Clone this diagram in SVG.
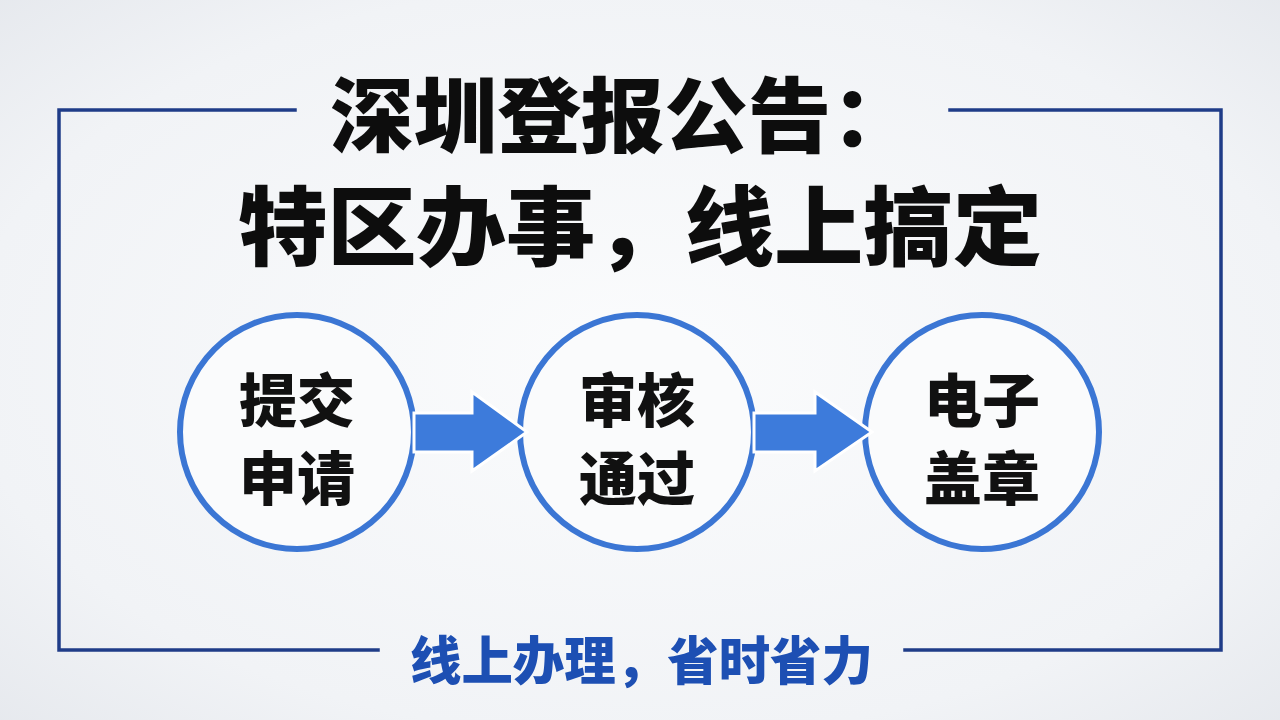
<svg xmlns="http://www.w3.org/2000/svg" width="1280" height="720" viewBox="0 0 1280 720">
<defs>
<radialGradient id="bg" cx="50%" cy="50%" r="75%">
<stop offset="0" stop-color="#FBFCFD"/>
<stop offset="0.7" stop-color="#F1F3F6"/>
<stop offset="1" stop-color="#E4E7EC"/>
</radialGradient>
<style>
.frame{fill:none;stroke:#1F3C88;stroke-width:3.5;stroke-linecap:square}
.ring{fill:#FAFBFC;stroke:#3B76D4;stroke-width:6}
.arrow{fill:#3D7BDB;stroke:#FFFFFF;stroke-width:3;stroke-linejoin:miter}
.title{font-family:"Noto Sans CJK SC","Noto Sans CJK JP",sans-serif;font-weight:900;fill:#0D0D0D}
.node{font-family:"Noto Sans CJK SC","Noto Sans CJK JP",sans-serif;font-weight:900;font-size:58px;fill:#111;text-anchor:middle}
.foot{font-family:"Noto Sans CJK SC","Noto Sans CJK JP",sans-serif;font-weight:900;font-size:52px;fill:#1D4FB3}
</style>
</defs>
<rect width="1280" height="720" fill="url(#bg)"/>
<g id="frame">
<polyline class="frame" points="295,110 59,110 59,650 378,650"/>
<polyline class="frame" points="950,110 1221,110 1221,650 905,650"/>
</g>
<g id="title">
<text class="title" x="330" y="146" font-size="82" textLength="585" lengthAdjust="spacingAndGlyphs">深圳登报公告：</text>
<text class="title" x="238" y="259" font-size="86" textLength="804" lengthAdjust="spacingAndGlyphs">特区办事，线上搞定</text>
</g>
<g id="node1">
<circle class="ring" cx="297" cy="432" r="117"/>
<text class="node" x="297" y="422">提交</text>
<text class="node" x="297" y="500">申请</text>
</g>
<g id="node2">
<circle class="ring" cx="637" cy="432" r="117"/>
<text class="node" x="637" y="422">审核</text>
<text class="node" x="637" y="500">通过</text>
</g>
<g id="node3">
<circle class="ring" cx="982" cy="432" r="117"/>
<text class="node" x="982" y="422">电子</text>
<text class="node" x="982" y="500">盖章</text>
</g>
<g id="connectors">
<path class="arrow" d="M414,413 L472,413 L472,392 L527,432 L472,471 L472,452 L414,452 Z"/>
<path class="arrow" d="M754,413 L815,413 L815,392 L872,432 L815,471 L815,452 L754,452 Z"/>
</g>
<g id="footer">
<text class="foot" x="410" y="680" textLength="463" lengthAdjust="spacingAndGlyphs">线上办理，省时省力</text>
</g>
</svg>
